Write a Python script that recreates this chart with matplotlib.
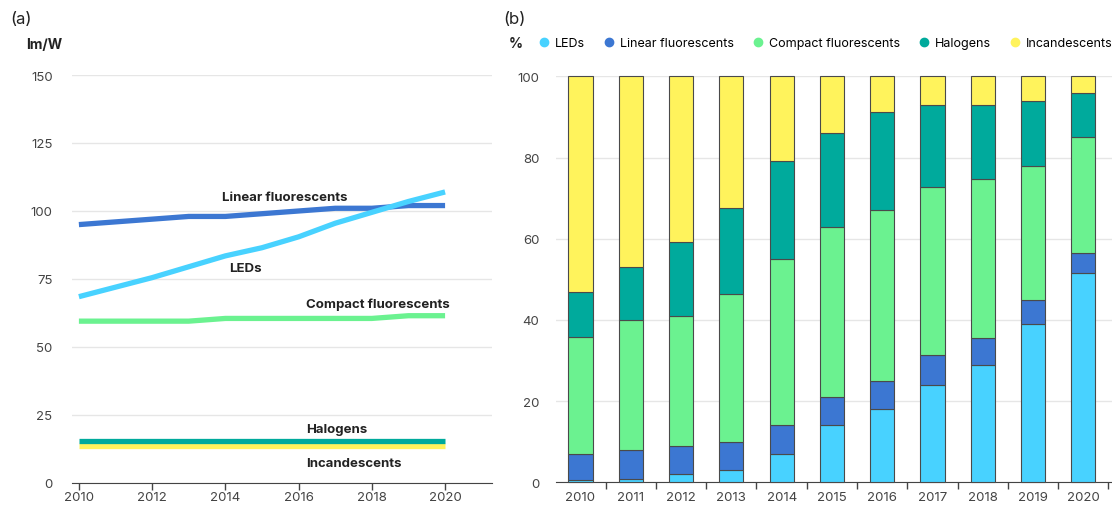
import matplotlib
matplotlib.use("Agg")
import matplotlib.pyplot as plt
from matplotlib.lines import Line2D
import numpy as np

plt.rcParams['font.family'] = ['Inter', 'DejaVu Sans']

# (a) efficacy, lm/W
years = [2010, 2011, 2012, 2013, 2014, 2015, 2016, 2017, 2018, 2019, 2020]
eff_led = [68.5, 72, 75.5, 79.5, 83.5, 86.5, 90.5, 95.5, 99.5, 103.5, 107]
eff_linear = [95, 96, 97, 98, 98, 99, 100, 101, 101, 102, 102]
eff_cfl = [59.5, 59.5, 59.5, 59.5, 60.5, 60.5, 60.5, 60.5, 60.5, 61.5, 61.5]
eff_halogen = [15.5] * 11
eff_incand = [13.5] * 11

# (b) sales share, %
share_led = [0.6, 0.8, 2, 3, 7, 14, 18, 24, 29, 39, 51.5]
share_linear = [6.3, 7.2, 7, 7, 7, 7, 7, 7.3, 6.5, 6, 5]
share_cfl = [29, 32, 32, 36.5, 41, 42, 42, 41.4, 39.2, 33, 28.5]
share_halogen = [11, 13, 18.2, 21.1, 24.1, 23, 24.2, 20.2, 18.2, 16, 10.8]
share_incand = [53.1, 47, 40.8, 32.4, 20.9, 14, 8.8, 7.1, 7.1, 6, 4.2]

names = ["LEDs", "Linear fluorescents", "Compact fluorescents", "Halogens", "Incandescents"]
colors = ["#48d2ff", "#3c77d2", "#6bf290", "#00aa9c", "#fff35c"]
grid = "#e6e6e6"

fig = plt.figure(figsize=(11.12, 5.06), dpi=100)

# ---- left panel
ax1 = fig.add_axes([0.0647, 0.0435, 0.3777, 0.8063])
for vals, c in zip([eff_incand, eff_halogen, eff_cfl, eff_linear, eff_led], colors[::-1]):
    ax1.plot(years, vals, color=c, lw=3.8, solid_capstyle="butt")
ax1.set_xlim(2009.81, 2021.28)
ax1.set_ylim(0, 150)
ax1.set_yticks([0, 25, 50, 75, 100, 125, 150])
ax1.set_xticks([2010, 2012, 2014, 2016, 2018, 2020])
ax1.yaxis.grid(True, color=grid, lw=1)
ax1.set_axisbelow(True)
for s in ["left", "right", "top"]:
    ax1.spines[s].set_visible(False)
ax1.spines["bottom"].set_color("#444444")
ax1.tick_params(axis="y", length=0, pad=14, labelsize=9.5, labelcolor="#444444")
ax1.tick_params(axis="x", length=5, width=1, color="#444444", pad=1, labelsize=9.5, labelcolor="#444444")

lab_kw = dict(fontsize=9.5, fontweight="bold", color="#222222", va="center", ha="left")
ax1.text(2013.9, 105.0, "Linear fluorescents", **lab_kw)
ax1.text(2014.1, 79.0, "LEDs", **lab_kw)
ax1.text(2016.2, 66.0, "Compact fluorescents", **lab_kw)
ax1.text(2016.2, 20.0, "Halogens", **lab_kw)
ax1.text(2016.2, 7.5, "Incandescents", **lab_kw)

fig.text(10 / 1112, 1 - 20 / 506, "(a)", fontsize=12, color="#222222", va="center", ha="left")
fig.text(26 / 1112, 1 - 45 / 506, "lm/W", fontsize=10, fontweight="bold", color="#222222", va="center", ha="left")

# ---- right panel
ax2 = fig.add_axes([556 / 1112, 0.0449, 1 - 556 / 1112, 0.8023])
x = np.arange(len(years))
bottom = np.zeros(len(years))
for vals, c, n in zip([share_led, share_linear, share_cfl, share_halogen, share_incand], colors, names):
    ax2.bar(x, vals, 0.48, bottom=bottom, color=c, edgecolor="#4a4a4a", lw=0.8, label=n, clip_on=False, zorder=3)
    bottom += np.array(vals)
ax2.set_xlim(-0.487, 10.57)
ax2.set_ylim(0, 100)
ax2.set_yticks([0, 20, 40, 60, 80, 100])
ax2.set_xticks(x)
ax2.set_xticklabels([str(y) for y in years])
ax2.set_xticks(np.arange(len(years)) + 0.5, minor=True)
ax2.yaxis.grid(True, color=grid, lw=1)
ax2.set_axisbelow(True)
for s in ["left", "right", "top"]:
    ax2.spines[s].set_visible(False)
ax2.spines["bottom"].set_color("#444444")
ax2.tick_params(axis="y", length=0, pad=12, labelsize=9.5, labelcolor="#444444")
ax2.tick_params(axis="x", which="major", length=0, pad=6, labelsize=9.5, labelcolor="#444444")
ax2.tick_params(axis="x", which="minor", length=5, width=1, color="#444444")

fig.text(503 / 1112, 1 - 20 / 506, "(b)", fontsize=12, color="#222222", va="center", ha="left")
fig.text(509 / 1112, 1 - 44 / 506, "%", fontsize=10, fontweight="bold", color="#222222", va="center", ha="left")
handles = [Line2D([], [], ls="", marker="o", markersize=6, color=c) for c in colors]
fig.legend(handles, names, loc="center left", bbox_to_anchor=(536 / 1112, 1 - 44 / 506), ncol=5,
           frameon=False, fontsize=9, handletextpad=0.3, columnspacing=1.3, handlelength=1.2,
           borderaxespad=0, borderpad=0)

fig.savefig("out.png", dpi=100)
